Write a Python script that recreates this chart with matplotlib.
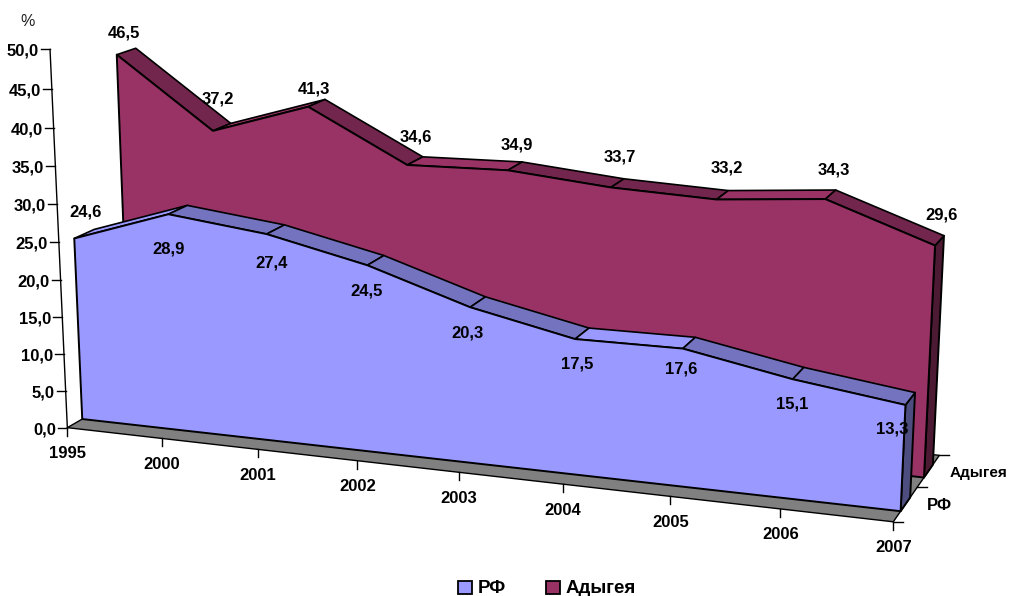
import numpy as np
import matplotlib
matplotlib.use("Agg")
import matplotlib.pyplot as plt
from matplotlib.patches import Polygon, Rectangle

plt.rcParams["font.family"] = ["Liberation Sans", "DejaVu Sans"]

years = ["1995", "2000", "2001", "2002", "2003", "2004", "2005", "2006", "2007"]
rf = [24.6, 28.9, 27.4, 24.5, 20.3, 17.5, 17.6, 15.1, 13.3]
adygea = [46.5, 37.2, 41.3, 34.6, 34.9, 33.7, 33.2, 34.3, 29.6]
y_ticks = [0, 5, 10, 15, 20, 25, 30, 35, 40, 45, 50]

# where the value labels sit in the picture (px)
rf_label_xy = [(86, 212), (169, 249), (272, 263), (367, 291), (468, 333),
               (577, 364), (681, 369), (792, 404), (892, 429)]
ad_label_xy = [(124, 33), (218, 99), (314, 89), (416, 137), (517, 145),
               (620, 157), (727, 168), (834, 170), (942, 215)]

RF_FC = "#9999FF"
AD_FC = "#993366"
GAP = 0.3
FS = 12

# camera fit: (category, value, depth) -> pixel, measured on the picture
calib = [
    (0, 0, 0, 67.7, 428), (1, 0, 0, 161.5, 438.5), (2, 0, 0, 258, 449),
    (5, 0, 0, 563, 484), (8, 0, 0, 893, 522), (8, 0, 1, 918, 487),
    (8, 0, 2, 939, 455), (0, 50, 0, 50, 49), (0, 0, GAP, 82, 419),
    (8, 0, GAP, 901, 511), (0, 24.6, GAP, 74, 238), (1, 28.9, GAP, 169, 215),
    (8, 13.3, GAP, 905, 405), (8, 13.3, 1 - GAP, 915, 393),
    (0, 46.5, 1 + GAP, 116.7, 55), (0, 46.5, 2 - GAP, 135.7, 48),
    (1, 37.2, 1 + GAP, 213, 131), (8, 29.6, 1 + GAP, 935, 245),
    (8, 29.6, 2 - GAP, 944, 236), (8, 0, 1 + GAP, 924, 478),
]
rows, rhs = [], []
for x, y, z, u, v in calib:
    rows.append([x, y, z, 1, 0, 0, 0, 0, -u * x, -u * y, -u * z])
    rows.append([0, 0, 0, 0, x, y, z, 1, -v * x, -v * y, -v * z])
    rhs += [u, v]
P = np.append(np.linalg.lstsq(np.array(rows, float), np.array(rhs, float), rcond=None)[0], 1).reshape(3, 4)


def proj(x, y, z):
    h = P @ np.array([x, y, z, 1.0])
    return h[0] / h[2], h[1] / h[2]


fig = plt.figure(figsize=(10.09, 5.96), dpi=100)
ax = fig.add_axes([0, 0, 1, 1])
ax.set_xlim(0, 1009)
ax.set_ylim(596, 0)
ax.axis("off")


def poly(pts, fc, lw=1.4, zo=2):
    ax.add_patch(Polygon(pts, closed=True, facecolor=fc, edgecolor="black", linewidth=lw, joinstyle="round", zorder=zo))


def shade(hex_color, k):
    return tuple(c * k for c in matplotlib.colors.to_rgb(hex_color))


def draw_series(vals, z0, color):
    z1 = z0 + 1 - 2 * GAP
    n = len(vals)
    # end wall on the right
    poly([proj(n - 1, 0, z0), proj(n - 1, vals[-1], z0), proj(n - 1, vals[-1], z1), proj(n - 1, 0, z1)], shade(color, 0.5))
    # top strip, segment by segment
    for i in range(n - 1):
        a0, a1 = proj(i, vals[i], z0), proj(i, vals[i], z1)
        b0, b1 = proj(i + 1, vals[i + 1], z0), proj(i + 1, vals[i + 1], z1)
        rising = vals[i + 1] > vals[i]
        poly([a0, a1, b1, b0], color if rising else shade(color, 0.75), lw=1.2)
    # front face
    pts = [proj(0, 0, z0)] + [proj(i, v, z0) for i, v in enumerate(vals)] + [proj(n - 1, 0, z0)]
    poly(pts, color)


# floor
poly([proj(0, 0, 0), proj(8, 0, 0), proj(8, 0, 2), proj(0, 0, 2)], "#808080", lw=1.0, zo=1)

draw_series(adygea, 1 + GAP, AD_FC)
draw_series(rf, GAP, RF_FC)

# value axis
ax.plot(*zip(proj(0, 0, 0), proj(0, 50, 0)), color="black", lw=1.0, zorder=3)
for t in y_ticks:
    px, py = proj(0, t, 0)
    ax.plot([px - 9, px], [py, py], color="black", lw=1.0, zorder=3)
    ax.text(px - 11, py + 2, f"{t:.1f}".replace(".", ","), ha="right", va="center", fontsize=FS, fontweight="bold")

# category axis
for i, yr in enumerate(years):
    px, py = proj(i, 0, 0)
    ax.plot([px, px], [py, py + 8], color="black", lw=1.0, zorder=3)
    ax.text(px, py + 26, yr, ha="center", va="center", fontsize=FS, fontweight="bold")

# depth axis
for z in [0, 1, 2]:
    px, py = proj(8, 0, z)
    ax.plot([px, px + 10], [py, py], color="black", lw=1.0, zorder=3)
ax.text(939, 506, "РФ", ha="center", va="center", fontsize=FS, fontweight="bold")
ax.text(950, 473, "Адыгея", ha="left", va="center", fontsize=11, fontweight="bold")

# value labels
for vals, xy in [(adygea, ad_label_xy), (rf, rf_label_xy)]:
    for v, (lx, ly) in zip(vals, xy):
        ax.text(lx, ly, f"{v:.1f}".replace(".", ","), ha="center", va="center", fontsize=FS, fontweight="bold", zorder=5)

ax.text(28, 21, "%", ha="center", va="center", fontsize=11.5, color="#222222")

# legend
ax.add_patch(Rectangle((457.5, 581), 14.5, 13, facecolor=RF_FC, edgecolor="black", lw=1.3, clip_on=False))
ax.text(478, 588.5, "РФ", ha="left", va="center", fontsize=13.5, fontweight="bold")
ax.add_patch(Rectangle((546, 581), 14, 13, facecolor=AD_FC, edgecolor="black", lw=1.3, clip_on=False))
ax.text(565.5, 588.5, "Адыгея", ha="left", va="center", fontsize=13.5, fontweight="bold")

fig.savefig("out.png", dpi=100)
